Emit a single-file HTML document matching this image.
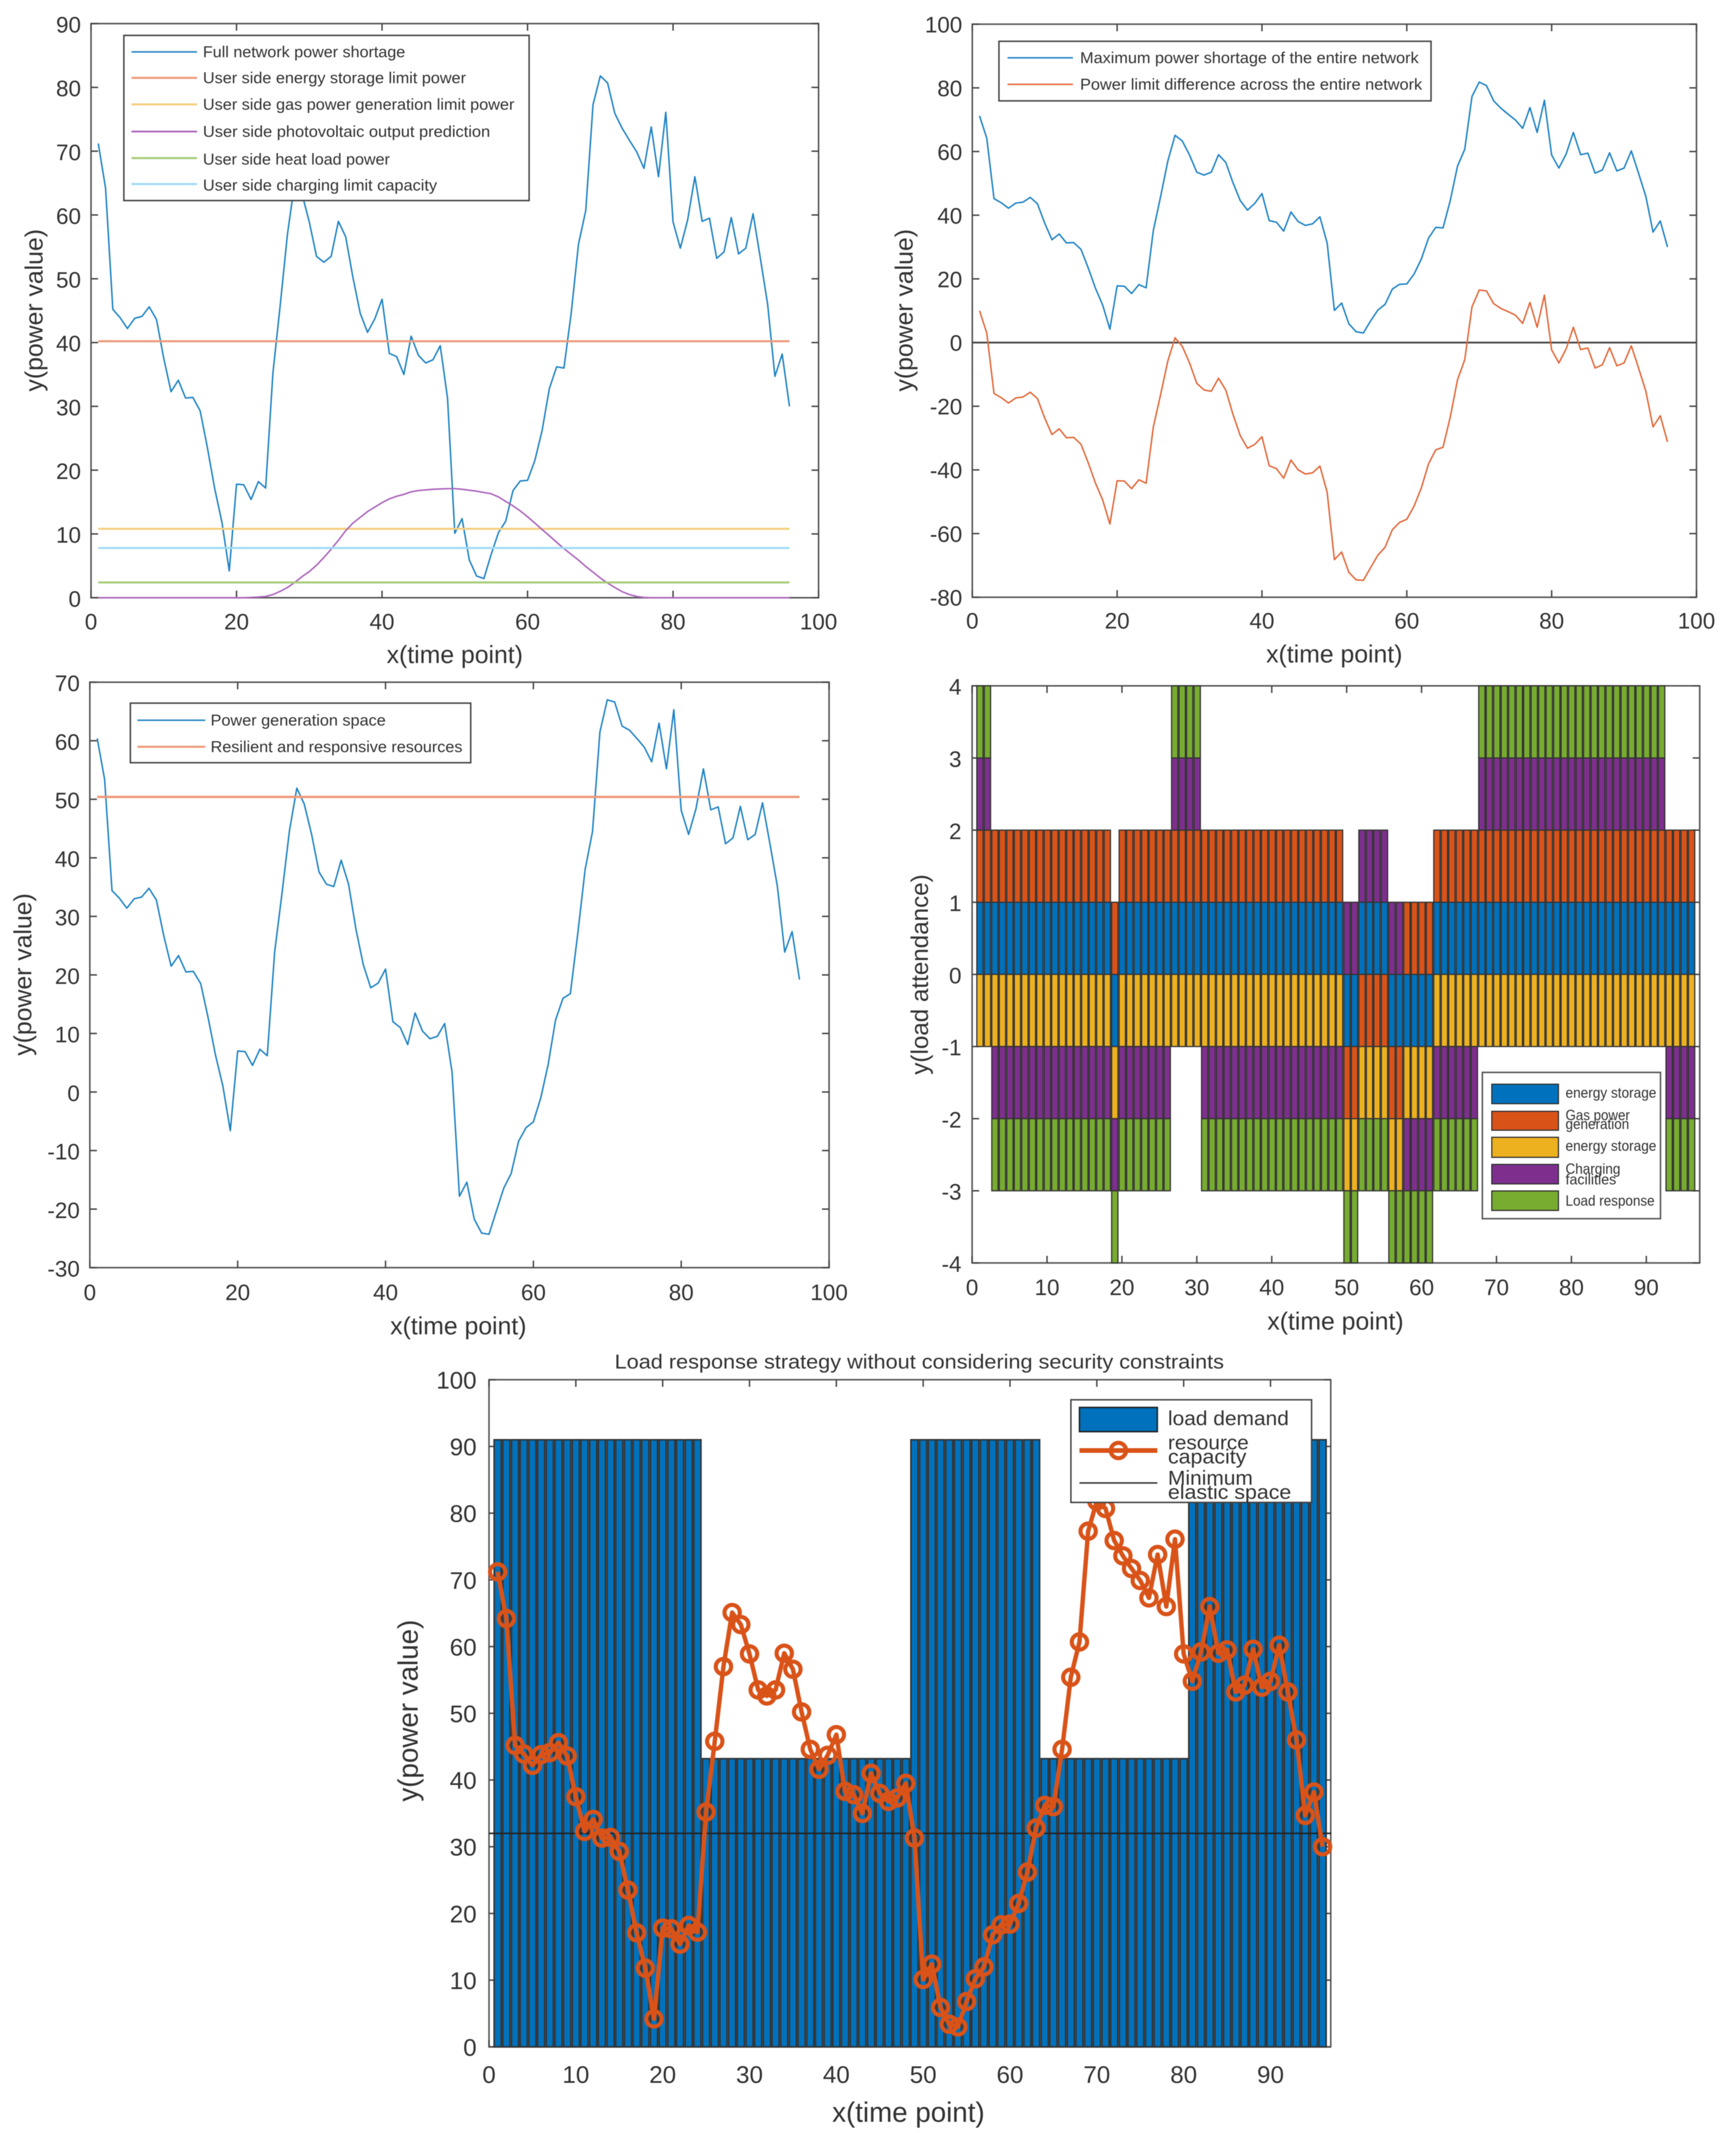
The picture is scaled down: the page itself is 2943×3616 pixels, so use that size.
<!DOCTYPE html>
<html lang="en">
<head>
<meta charset="utf-8">
<title>Power network load response charts</title>
<style>
html,body{margin:0;padding:0;background:#fff;}
svg{display:block;filter:blur(0.6px);}
text{font-family:"Liberation Sans",sans-serif;fill:#333;}
</style>
</head>
<body>
<svg id="figure" xmlns="http://www.w3.org/2000/svg" width="2943" height="3616" viewBox="0 0 2943 3616">
<rect x="0" y="0" width="2943" height="3616" fill="#fff"/>

<g>
  <g id="c1-axes"></g><g id="c1-marks"></g>
  <text x="771" y="1124" font-size="42" text-anchor="middle">x(time point)</text>
  <text transform="translate(72 526) rotate(-90)" font-size="42" text-anchor="middle">y(power value)</text>
  <g>
    <rect x="210" y="60" width="687" height="280" fill="#fff" stroke="#444" stroke-width="2.5"/>
    <line x1="223" x2="334" y1="88" y2="88" stroke="#1f83c4" stroke-width="2.5"/>
    <text x="344" y="97" font-size="27" textLength="343" lengthAdjust="spacingAndGlyphs">Full network power shortage</text>
    <line x1="223" x2="334" y1="132" y2="132" stroke="#ee9a7a" stroke-width="3.5"/>
    <text x="344" y="141" font-size="27" textLength="446" lengthAdjust="spacingAndGlyphs">User side energy storage limit power</text>
    <line x1="223" x2="334" y1="177" y2="177" stroke="#f5cf80" stroke-width="3.5"/>
    <text x="344" y="186" font-size="27" textLength="528" lengthAdjust="spacingAndGlyphs">User side gas power generation limit power</text>
    <line x1="223" x2="334" y1="223" y2="223" stroke="#ad66bd" stroke-width="3"/>
    <text x="344" y="232" font-size="27" textLength="487" lengthAdjust="spacingAndGlyphs">User side photovoltaic output prediction</text>
    <line x1="223" x2="334" y1="268" y2="268" stroke="#a7cc78" stroke-width="3.5"/>
    <text x="344" y="279" font-size="27" textLength="317" lengthAdjust="spacingAndGlyphs">User side heat load power</text>
    <line x1="223" x2="334" y1="312" y2="312" stroke="#9fdcf5" stroke-width="3.5"/>
    <text x="344" y="323" font-size="27" textLength="397" lengthAdjust="spacingAndGlyphs">User side charging limit capacity</text>
  </g>
</g>

<g>
  <g id="c2-axes"></g><g id="c2-marks"></g>
  <text x="2262" y="1123" font-size="42" text-anchor="middle">x(time point)</text>
  <text transform="translate(1547 526) rotate(-90)" font-size="42" text-anchor="middle">y(power value)</text>
  <g>
    <rect x="1693.5" y="70" width="732.5" height="101" fill="#fff" stroke="#444" stroke-width="2.5"/>
    <line x1="1708" x2="1819" y1="98" y2="98" stroke="#1f83c4" stroke-width="2.5"/>
    <text x="1831" y="107" font-size="27" textLength="574" lengthAdjust="spacingAndGlyphs">Maximum power shortage of the entire network</text>
    <line x1="1708" x2="1819" y1="143" y2="143" stroke="#e2683a" stroke-width="2.5"/>
    <text x="1831" y="152" font-size="27" textLength="580" lengthAdjust="spacingAndGlyphs">Power limit difference across the entire network</text>
  </g>
</g>

<g>
  <g id="c3-axes"></g><g id="c3-marks"></g>
  <text x="777" y="2262" font-size="42" text-anchor="middle">x(time point)</text>
  <text transform="translate(53 1652) rotate(-90)" font-size="42" text-anchor="middle">y(power value)</text>
  <g>
    <rect x="221" y="1192" width="577" height="101" fill="#fff" stroke="#444" stroke-width="2.5"/>
    <line x1="233" x2="348" y1="1221" y2="1221" stroke="#1f83c4" stroke-width="2.5"/>
    <text x="357" y="1230" font-size="27" textLength="297" lengthAdjust="spacingAndGlyphs">Power generation space</text>
    <line x1="233" x2="348" y1="1266" y2="1266" stroke="#ee9a7a" stroke-width="3.5"/>
    <text x="357" y="1275" font-size="27" textLength="427" lengthAdjust="spacingAndGlyphs">Resilient and responsive resources</text>
  </g>
</g>

<g>
  <g id="c4-axes"></g><g id="c4-marks"></g>
  <text x="2264" y="2254" font-size="42" text-anchor="middle">x(time point)</text>
  <text transform="translate(1573 1652) rotate(-90)" font-size="41" text-anchor="middle">y(load attendance)</text>
  <g>
    <rect x="2513" y="1818" width="302" height="248" fill="#fff" stroke="#555" stroke-width="2.5"/>
    <rect x="2529" y="1838" width="113" height="33" fill="#0072BD" stroke="#333" stroke-width="2"/>
    <text x="2654" y="1861" font-size="25" textLength="154" lengthAdjust="spacingAndGlyphs">energy storage</text>
    <rect x="2529" y="1884" width="113" height="32" fill="#D95319" stroke="#333" stroke-width="2"/>
    <text x="2654" y="1899" font-size="25" textLength="109" lengthAdjust="spacingAndGlyphs">Gas power</text>
    <text x="2654" y="1914" font-size="25" textLength="108" lengthAdjust="spacingAndGlyphs">generation</text>
    <rect x="2529" y="1928" width="113" height="34" fill="#EDB120" stroke="#333" stroke-width="2"/>
    <text x="2654" y="1951" font-size="25" textLength="154" lengthAdjust="spacingAndGlyphs">energy storage</text>
    <rect x="2529" y="1974" width="113" height="33" fill="#7E2F8E" stroke="#333" stroke-width="2"/>
    <text x="2654" y="1990" font-size="25" textLength="93" lengthAdjust="spacingAndGlyphs">Charging</text>
    <text x="2654" y="2008" font-size="25" textLength="86" lengthAdjust="spacingAndGlyphs">facilities</text>
    <rect x="2529" y="2019" width="113" height="33" fill="#77AC30" stroke="#333" stroke-width="2"/>
    <text x="2654" y="2044" font-size="25" textLength="151" lengthAdjust="spacingAndGlyphs">Load response</text>
  </g>
</g>

<g>
  <g id="c5-axes"></g><g id="c5-marks"></g>
  <text x="1042" y="2320" font-size="34" textLength="1033" lengthAdjust="spacingAndGlyphs">Load response strategy without considering security constraints</text>
  <text x="1540" y="3597" font-size="47" text-anchor="middle">x(time point)</text>
  <text transform="translate(708 2900) rotate(-90)" font-size="47" text-anchor="middle">y(power value)</text>
  <g>
    <rect x="1815.5" y="2373" width="408" height="174" fill="#fff" stroke="#444" stroke-width="2.5"/>
    <rect x="1830" y="2386" width="132" height="41" fill="#0072BD" stroke="#222" stroke-width="2.5"/>
    <text x="1980" y="2416" font-size="34" textLength="205" lengthAdjust="spacingAndGlyphs">load demand</text>
    <line x1="1830" x2="1962" y1="2459" y2="2459" stroke="#D95319" stroke-width="8"/>
    <circle cx="1896" cy="2459" r="13" fill="none" stroke="#D95319" stroke-width="7"/>
    <text x="1980" y="2457" font-size="34" textLength="137" lengthAdjust="spacingAndGlyphs">resource</text>
    <text x="1980" y="2481" font-size="34" textLength="133" lengthAdjust="spacingAndGlyphs">capacity</text>
    <line x1="1830" x2="1962" y1="2514" y2="2514" stroke="#333" stroke-width="2.5"/>
    <text x="1980" y="2517" font-size="34" textLength="144" lengthAdjust="spacingAndGlyphs">Minimum</text>
    <text x="1980" y="2541" font-size="34" textLength="209" lengthAdjust="spacingAndGlyphs">elastic space</text>
  </g>
</g>
</svg>

<script>
// ---------- chart data ----------
const timePoints = [1,2,3,4,5,6,7,8,9,10,11,12,13,14,15,16,17,18,19,20,21,22,23,24,25,26,27,28,29,30,31,32,33,34,35,36,37,38,39,40,41,42,43,44,45,46,47,48,49,50,51,52,53,54,55,56,57,58,59,60,61,62,63,64,65,66,67,68,69,70,71,72,73,74,75,76,77,78,79,80,81,82,83,84,85,86,87,88,89,90,91,92,93,94,95,96];
const powerShortage = [71.2,64.2,45.2,43.9,42.2,43.8,44.1,45.6,43.6,37.5,32.3,34.1,31.3,31.4,29.3,23.5,17.1,11.8,4.2,17.8,17.7,15.4,18.2,17.2,35.2,45.8,57,65.1,63.3,58.9,53.5,52.6,53.5,59,56.6,50.2,44.6,41.6,43.7,46.8,38.3,37.8,35,41,38,36.8,37.3,39.5,31.3,10.1,12.4,5.9,3.4,3,6.8,10.2,12,16.8,18.3,18.4,21.5,26.2,32.8,36.2,36,44.6,55.4,60.7,77.3,81.8,80.7,75.9,73.6,71.7,69.9,67.3,73.8,66,76.1,58.9,54.8,59.2,66,59,59.5,53.2,54.2,59.6,53.9,54.8,60.2,53.2,46,34.7,38.2,30];
const photovoltaic = [0,0,0,0,0,0,0,0,0,0,0,0,0,0,0,0,0,0,0,0,0,0.05,0.1,0.2,0.5,1,1.6,2.4,3.3,4.1,5.1,6.3,7.6,9,10.5,11.7,12.6,13.5,14.2,14.9,15.5,15.9,16.2,16.6,16.8,16.9,17,17.05,17.1,17.1,17,16.85,16.7,16.5,16.3,15.8,15.1,14.4,13.6,12.7,11.7,10.7,9.7,8.7,7.7,6.8,5.9,4.9,4,3.1,2.3,1.6,0.95,0.5,0.2,0.05,0,0,0,0,0,0,0,0,0,0,0,0,0,0,0,0,0,0,0,0];
const limitDifference = [10,3,-16,-17.3,-19,-17.4,-17.1,-15.6,-17.6,-23.7,-28.9,-27.1,-29.9,-29.8,-31.9,-37.7,-44.1,-49.4,-57,-43.4,-43.5,-45.9,-43.1,-44.2,-26.5,-16.4,-5.8,1.5,-1.2,-6.4,-12.8,-14.9,-15.3,-11.2,-14.9,-22.6,-29.2,-33.2,-32,-29.6,-38.7,-39.6,-42.6,-36.9,-40,-41.3,-40.9,-38.8,-47,-68.2,-65.8,-72.2,-74.5,-74.7,-70.7,-66.8,-64.3,-58.8,-56.5,-55.5,-51.4,-45.7,-38.1,-33.7,-32.9,-23.4,-11.7,-5.4,11.2,16.5,16.2,12.2,10.7,9.7,8.6,6,12.6,4.8,14.9,-2.3,-6.4,-2,4.8,-2.2,-1.7,-8,-7,-1.6,-7.3,-6.4,-1,-8,-15.2,-26.5,-23,-31.2];
const generationSpace = [60.4,53.4,34.4,33.1,31.4,33,33.3,34.8,32.8,26.7,21.5,23.3,20.5,20.6,18.5,12.7,6.3,1,-6.6,7,6.9,4.55,7.3,6.2,23.9,34,44.6,51.9,49.2,44,37.6,35.5,35.1,39.6,35.5,27.8,21.7,17.8,18.6,21,12,11,8.1,13.5,10.4,9.1,9.5,11.7,3.4,-17.8,-15.4,-21.7,-24.1,-24.3,-20.3,-16.4,-13.9,-8.4,-6.1,-5.1,-1,4.7,12.3,16,16.8,27,38,44.5,61.5,67,66.6,62.5,61.8,60.4,58.9,56.4,63,55.2,65.3,48.1,44,48.4,55.2,48.2,48.7,42.4,43.4,48.8,43.1,44,49.4,42.4,35.2,23.9,27.4,19.2];
const lineSpan = [1,96];
const storageLimit = [40.2,40.2];
const gasLimit = [10.8,10.8];
const heatLoad = [2.4,2.4];
const chargingLimit = [7.8,7.8];
const resilientResources = [50.4,50.4];
const zeroSpan = [0,100];
const zeroLine = [0,0];
const elasticSpan = [0,97];
const minimumElastic = [32,32];
const loadDemand = [
  91,91,91,91,91,91,91,91,91,91,
  91,91,91,91,91,91,91,91,91,91,
  91,91,91,91,43.2,43.2,43.2,43.2,43.2,43.2,
  43.2,43.2,43.2,43.2,43.2,43.2,43.2,43.2,43.2,43.2,
  43.2,43.2,43.2,43.2,43.2,43.2,43.2,43.2,91,91,
  91,91,91,91,91,91,91,91,91,91,
  91,91,91,43.2,43.2,43.2,43.2,43.2,43.2,43.2,
  43.2,43.2,43.2,43.2,43.2,43.2,43.2,43.2,43.2,43.2,
  91,91,91,91,91,91,91,91,91,91,
  91,91,91,91,91,91];
const attendStorage = [
  1,1,1,1,1,1,1,1,1,1,
  1,1,1,1,1,1,1,1,-1,1,
  1,1,1,1,1,1,1,1,1,1,
  1,1,1,1,1,1,1,1,1,1,
  1,1,1,1,1,1,1,1,1,-1,
  -1,1,1,1,1,-1,-1,-1,-1,-1,
  -1,1,1,1,1,1,1,1,1,1,
  1,1,1,1,1,1,1,1,1,1,
  1,1,1,1,1,1,1,1,1,1,
  1,1,1,1,1,1];
const attendGas = [
  1,1,1,1,1,1,1,1,1,1,
  1,1,1,1,1,1,1,1,1,1,
  1,1,1,1,1,1,1,1,1,1,
  1,1,1,1,1,1,1,1,1,1,
  1,1,1,1,1,1,1,1,1,-1,
  -1,-1,-1,-1,-1,-1,-1,1,1,1,
  1,1,1,1,1,1,1,1,1,1,
  1,1,1,1,1,1,1,1,1,1,
  1,1,1,1,1,1,1,1,1,1,
  1,1,1,1,1,1];
const attendStorageB = [
  -1,-1,-1,-1,-1,-1,-1,-1,-1,-1,
  -1,-1,-1,-1,-1,-1,-1,-1,-1,-1,
  -1,-1,-1,-1,-1,-1,-1,-1,-1,-1,
  -1,-1,-1,-1,-1,-1,-1,-1,-1,-1,
  -1,-1,-1,-1,-1,-1,-1,-1,-1,-1,
  -1,-1,-1,-1,-1,-1,-1,-1,-1,-1,
  -1,-1,-1,-1,-1,-1,-1,-1,-1,-1,
  -1,-1,-1,-1,-1,-1,-1,-1,-1,-1,
  -1,-1,-1,-1,-1,-1,-1,-1,-1,-1,
  -1,-1,-1,-1,-1,-1];
const attendCharging = [
  1,1,-1,-1,-1,-1,-1,-1,-1,-1,
  -1,-1,-1,-1,-1,-1,-1,-1,-1,-1,
  -1,-1,-1,-1,-1,-1,1,1,1,1,
  -1,-1,-1,-1,-1,-1,-1,-1,-1,-1,
  -1,-1,-1,-1,-1,-1,-1,-1,-1,1,
  1,1,1,1,1,1,1,-1,-1,-1,
  -1,-1,-1,-1,-1,-1,-1,1,1,1,
  1,1,1,1,1,1,1,1,1,1,
  1,1,1,1,1,1,1,1,1,1,
  1,1,-1,-1,-1,-1];
const attendLoad = [
  1,1,-1,-1,-1,-1,-1,-1,-1,-1,
  -1,-1,-1,-1,-1,-1,-1,-1,-1,-1,
  -1,-1,-1,-1,-1,-1,1,1,1,1,
  -1,-1,-1,-1,-1,-1,-1,-1,-1,-1,
  -1,-1,-1,-1,-1,-1,-1,-1,-1,-1,
  -1,-1,-1,-1,-1,-1,-1,-1,-1,-1,
  -1,-1,-1,-1,-1,-1,-1,1,1,1,
  1,1,1,1,1,1,1,1,1,1,
  1,1,1,1,1,1,1,1,1,1,
  1,1,-1,-1,-1,-1];
// tick labels
const ticksX100 = [0,20,40,60,80,100];
const ticksX97 = [0,10,20,30,40,50,60,70,80,90];
const ticksYc1 = [0,10,20,30,40,50,60,70,80,90];
const ticksYc2 = [-80,-60,-40,-20,0,20,40,60,80,100];
const ticksYc3 = [-30,-20,-10,0,10,20,30,40,50,60,70];
const ticksYc4 = [-4,-3,-2,-1,0,1,2,3,4];
const ticksYc5 = [0,10,20,30,40,50,60,70,80,90,100];

// ---------- drawing helpers ----------
const NS = 'http://www.w3.org/2000/svg';
function make(tag, attrs, parent, text){
  const node = document.createElementNS(NS, tag);
  for(const k in attrs) node.setAttribute(k, attrs[k]);
  if(text !== undefined) node.textContent = text;
  parent.appendChild(node);
  return node;
}
function scale(d0, d1, r0, r1){ return v => r0 + (v - d0) * (r1 - r0) / (d1 - d0); }

function drawAxes(hostId, box, xDom, yDom, xTicks, yTicks, opt){
  const host = document.getElementById(hostId);
  const x = scale(xDom[0], xDom[1], box.l, box.r);
  const y = scale(yDom[0], yDom[1], box.b, box.t);
  const frame = make('rect', {x:box.l, y:box.t, width:box.r-box.l, height:box.b-box.t, fill:'#fff', stroke:'#555', 'stroke-width':2.6}, host);
  
  
  xTicks.forEach(v => {
    const px = x(v);
    const bottomTick = make('line', {x1:px, x2:px, y1:box.b, y2:box.b-12, stroke:'#444', 'stroke-width':2.4}, host);
    
    
    const topTick = make('line', {x1:px, x2:px, y1:box.t, y2:box.t+12, stroke:'#444', 'stroke-width':2.4}, host);
    
    
    const label = make('text', {x:px, y:opt.xLabelY, 'font-size':opt.font, 'text-anchor':'middle'}, host, String(v));
    
    
  });
  yTicks.forEach(v => {
    const py = y(v);
    const leftTick = make('line', {x1:box.l, x2:box.l+12, y1:py, y2:py, stroke:'#444', 'stroke-width':2.4}, host);
    
    
    const rightTick = make('line', {x1:box.r, x2:box.r-12, y1:py, y2:py, stroke:'#444', 'stroke-width':2.4}, host);
    
    
    const label = make('text', {x:box.l-opt.yGap, y:py+opt.yOff, 'font-size':opt.font, 'text-anchor':'end'}, host, String(v));
    
    
  });
  return {x, y};
}
function drawLine(hostId, ax, xs, ys, color, width, name){
  const host = document.getElementById(hostId);
  const pts = xs.map((v,i) => ax.x(v).toFixed(2) + ',' + ax.y(ys[i]).toFixed(2)).join(' ');
  const line = make('polyline', {points:pts, fill:'none', stroke:color, 'stroke-width':width, 'stroke-linejoin':'round'}, host);
  
  
}

// ---------- chart 1 ----------
const ax1 = drawAxes('c1-axes', {l:154.3, r:1387.7, t:40, b:1013.3}, [0,100], [0,90], ticksX100, ticksYc1, {font:38, xLabelY:1067, yGap:17, yOff:15});
drawLine('c1-marks', ax1, timePoints, powerShortage, '#1f83c4', 2.5, 'line-full-network-shortage');
drawLine('c1-marks', ax1, lineSpan, storageLimit, '#ee9a7a', 3.5, 'line-storage-limit');
drawLine('c1-marks', ax1, lineSpan, gasLimit, '#f5cf80', 3.5, 'line-gas-limit');
drawLine('c1-marks', ax1, timePoints, photovoltaic, '#ad66bd', 2.6, 'line-photovoltaic');
drawLine('c1-marks', ax1, lineSpan, heatLoad, '#a7cc78', 3.5, 'line-heat-load');
drawLine('c1-marks', ax1, lineSpan, chargingLimit, '#9fdcf5', 3.5, 'line-charging-limit');

// ---------- chart 2 ----------
const ax2 = drawAxes('c2-axes', {l:1648.3, r:2876, t:41, b:1012.5}, [0,100], [-80,100], ticksX100, ticksYc2, {font:38, xLabelY:1065.5, yGap:17, yOff:14});
drawLine('c2-marks', ax2, zeroSpan, zeroLine, '#444', 3, 'line-zero');
drawLine('c2-marks', ax2, timePoints, powerShortage, '#1f83c4', 2.5, 'line-maximum-shortage');
drawLine('c2-marks', ax2, timePoints, limitDifference, '#e2683a', 2.5, 'line-limit-difference');

// ---------- chart 3 ----------
const ax3 = drawAxes('c3-axes', {l:152.3, r:1405.5, t:1156.5, b:2149}, [0,100], [-30,70], ticksX100, ticksYc3, {font:38, xLabelY:2204, yGap:17, yOff:15});
drawLine('c3-marks', ax3, timePoints, generationSpace, '#1f83c4', 2.5, 'line-generation-space');
drawLine('c3-marks', ax3, lineSpan, resilientResources, '#ee9a7a', 4, 'line-resilient-resources');

// ---------- chart 4: stacked attendance bars ----------
const ax4 = drawAxes('c4-axes', {l:1648, r:2881.5, t:1162.7, b:2141}, [0,97.13], [-4,4], ticksX97, ticksYc4, {font:38, xLabelY:2195.5, yGap:18, yOff:15});
const stackSeries = [
  {name:'energy-storage', fill:'#0072BD', values:attendStorage},
  {name:'gas-power', fill:'#D95319', values:attendGas},
  {name:'energy-storage-2', fill:'#EDB120', values:attendStorageB},
  {name:'charging-facilities', fill:'#7E2F8E', values:attendCharging},
  {name:'load-response', fill:'#77AC30', values:attendLoad}
];
const c4marks = document.getElementById('c4-marks');
timePoints.forEach((t, i) => {
  let up = 0, down = 0;
  stackSeries.forEach(s => {
    const v = s.values[i];
    let a, b;
    if(v >= 0){ a = up; b = up + v; up = b; }
    else { a = down; b = down + v; down = b; }
    const hi = Math.max(a, b), lo = Math.min(a, b);
    const w = 0.84 * (ax4.x(1) - ax4.x(0));
    const bar = make('rect', {x:ax4.x(t)+0.6-w/2, y:ax4.y(hi), width:w, height:ax4.y(lo)-ax4.y(hi), fill:s.fill, stroke:'#333', 'stroke-width':2}, c4marks);
    
    
  });
});

// ---------- chart 5: load demand bars + capacity line ----------
const ax5 = drawAxes('c5-axes', {l:829, r:2256, t:2339, b:3470}, [0,96.94], [0,100], ticksX97, ticksYc5, {font:41, xLabelY:3531, yGap:21, yOff:15});
const c5marks = document.getElementById('c5-marks');
timePoints.forEach((t, i) => {
  const w = 0.82 * (ax5.x(1) - ax5.x(0));
  const bar = make('rect', {x:ax5.x(t)-w/2, y:ax5.y(loadDemand[i]), width:w, height:ax5.y(0)-ax5.y(loadDemand[i]), fill:'#0072BD', stroke:'#333', 'stroke-width':2.6}, c5marks);
  
  
});
drawLine('c5-marks', ax5, elasticSpan, minimumElastic, '#222', 2.6, 'line-minimum-elastic-space');
drawLine('c5-marks', ax5, timePoints, powerShortage, '#D95319', 7.5, 'line-resource-capacity');
timePoints.forEach((t, i) => {
  const dot = make('circle', {cx:ax5.x(t), cy:ax5.y(powerShortage[i]), r:13, fill:'none', stroke:'#D95319', 'stroke-width':7}, c5marks);
  
  
});
</script>
</body>
</html>
